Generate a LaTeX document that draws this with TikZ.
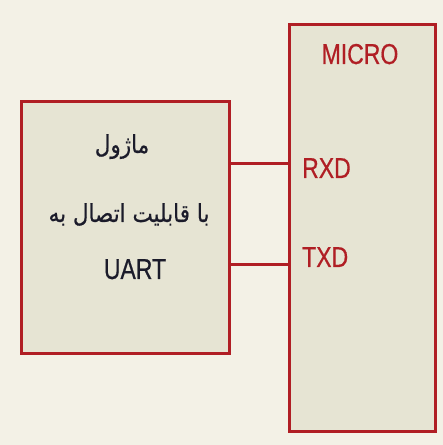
\documentclass[tikz,border=0pt]{standalone}
\usepackage{fontspec}
\setmainfont{Liberation Sans}[FakeBold=0.6]
\newfontfamily\arabicfont[Script=Arabic,FakeBold=0.6]{DejaVu Sans}
\TeXXeTstate=1
\definecolor{bgc}{HTML}{F3F1E6}
\definecolor{boxc}{HTML}{E6E4D3}
\definecolor{redc}{HTML}{B01E24}
\definecolor{inkc}{HTML}{1B1B2A}
\begin{document}
\begin{tikzpicture}[x=1pt,y=1pt,
  blk/.style={draw=redc,line width=3pt,fill=boxc,inner sep=0pt},
  wire/.style={draw=redc,line width=3pt},
  redlbl/.style={text=redc,font=\fontsize{23}{26}\selectfont,inner sep=0pt},
  inklbl/.style={text=inkc,font=\fontsize{23}{26}\selectfont,inner sep=0pt},
  fatxt/.style={text=inkc,font=\arabicfont\fontsize{21.5}{24}\selectfont,inner sep=0pt}]
\fill[bgc] (0,0) rectangle (443,445);
\useasboundingbox (0,0) rectangle (443,445);
\node[blk,minimum width=208pt,minimum height=252pt] (mod) at (125,217) {};
\node[blk,minimum width=146pt,minimum height=407pt] (micro) at (362,216.5) {};
\coordinate (rxl) at (229,281);
\coordinate (txl) at (229,180);
\draw[wire] (mod.east |- rxl) -- (micro.west |- rxl);
\draw[wire] (mod.east |- txl) -- (micro.west |- txl);
\node[redlbl,anchor=base] (mt) at (360,381) {\scalebox{1}[1.25]{MICRO}};
\node[redlbl,anchor=base west] (rx) at (302,267) {\scalebox{1}[1.25]{RXD}};
\node[redlbl,anchor=base west] (tx) at (302,178) {\scalebox{1}[1.25]{TXD}};
\node[inklbl,anchor=base] (ua) at (135,166) {\scalebox{1}[1.25]{UART}};
\node[fatxt,anchor=base] (fa1) at (122,292) {\scalebox{1}[1.15]{\beginR ماژول\endR}};
\node[fatxt,anchor=base] (fa2) at (129,223) {\scalebox{1}[1.15]{\beginR با قابلیت اتصال به\endR}};
\end{tikzpicture}
\end{document}
